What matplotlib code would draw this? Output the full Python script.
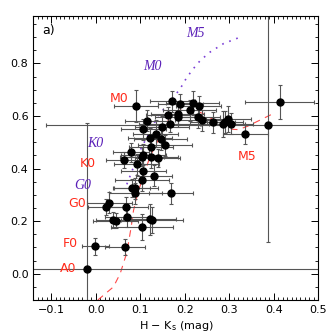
import matplotlib
matplotlib.use("Agg")
import matplotlib.pyplot as plt
from matplotlib.ticker import MultipleLocator

# H-Ks, J-H colours of the sample with errors
hk = [0.091, 0.172, 0.190, 0.218, 0.231, 0.162, 0.184, 0.184, 0.211, 0.229,
      0.238, 0.263, 0.167, 0.285, 0.291, 0.298, 0.304, 0.336, 0.388, 0.413,
      0.116, 0.107, 0.149, 0.122, 0.135, 0.146, 0.124, 0.080, 0.107, 0.104,
      0.124, 0.139, 0.064, 0.092, 0.107, 0.131, 0.104, 0.081, 0.089, 0.089,
      0.169, 0.031, 0.023, 0.068, 0.040, 0.045, 0.070, 0.121, 0.126, 0.104,
      -0.001, 0.066, -0.019, 0.156]
jh = [0.637, 0.656, 0.645, 0.650, 0.637, 0.603, 0.609, 0.597, 0.622, 0.596,
      0.584, 0.576, 0.568, 0.569, 0.577, 0.589, 0.571, 0.530, 0.564, 0.653,
      0.581, 0.549, 0.558, 0.515, 0.533, 0.511, 0.483, 0.461, 0.453, 0.445,
      0.442, 0.439, 0.432, 0.417, 0.392, 0.373, 0.356, 0.327, 0.325, 0.306,
      0.306, 0.270, 0.253, 0.253, 0.205, 0.202, 0.217, 0.207, 0.205, 0.177,
      0.104, 0.101, 0.018, 0.489]
hk_err = [0.05, 0.05, 0.05, 0.06, 0.05, 0.05, 0.06, 0.05, 0.06, 0.05,
          0.06, 0.05, 0.07, 0.05, 0.04, 0.05, 0.05, 0.05, 0.50, 0.077,
          0.05, 0.05, 0.06, 0.05, 0.05, 0.06, 0.05, 0.04, 0.05, 0.05,
          0.06, 0.05, 0.04, 0.05, 0.05, 0.04, 0.06, 0.04, 0.05, 0.06,
          0.05, 0.05, 0.04, 0.05, 0.04, 0.05, 0.05, 0.06, 0.07, 0.07,
          0.03, 0.045, 0.55, 0.06]
jh_err = [0.06, 0.04, 0.04, 0.045, 0.04, 0.03, 0.04, 0.04, 0.04, 0.04,
          0.04, 0.04, 0.03, 0.05, 0.04, 0.05, 0.04, 0.036, 0.443, 0.066,
          0.04, 0.04, 0.04, 0.04, 0.05, 0.04, 0.04, 0.035, 0.04, 0.035,
          0.04, 0.035, 0.03, 0.04, 0.04, 0.04, 0.04, 0.035, 0.04, 0.04,
          0.04, 0.04, 0.03, 0.04, 0.03, 0.03, 0.04, 0.06, 0.05, 0.05,
          0.033, 0.03, 0.554, 0.04]

# dwarf locus (red dashed)
dw_hk = [0.005, 0.04, 0.055, 0.07, 0.08, 0.085, 0.095, 0.107, 0.122, 0.135,
         0.15, 0.165, 0.185, 0.21, 0.24, 0.27, 0.30, 0.32, 0.34, 0.37, 0.40]
dw_jh = [-0.10, -0.05, 0.0, 0.08, 0.18, 0.24, 0.31, 0.37, 0.445, 0.49,
         0.54, 0.59, 0.62, 0.628, 0.61, 0.58, 0.55, 0.548, 0.56, 0.585, 0.61]

# giant branch (purple dotted)
gi_hk = [0.07, 0.10, 0.14, 0.17, 0.19, 0.201, 0.216, 0.235, 0.257, 0.287, 0.328]
gi_jh = [0.34, 0.47, 0.60, 0.66, 0.704, 0.736, 0.773, 0.811, 0.843, 0.875, 0.902]

dw_labels = ["M0", "K0", "G0", "F0", "A0", "M5"]
dw_lx = [0.053, -0.017, -0.042, -0.058, -0.061, 0.34]
dw_ly = [0.666, 0.421, 0.268, 0.116, 0.019, 0.447]

gi_labels = ["M0", "K0", "G0", "M5"]
gi_lx = [0.127, -0.001, -0.029, 0.223]
gi_ly = [0.789, 0.497, 0.337, 0.913]

fig = plt.figure(figsize=(3.34, 3.34), dpi=100)
ax = fig.add_axes([0.0997, 0.1018, 0.8533, 0.8502])

ax.plot(dw_hk, dw_jh, color="#ff4a4a", ls=(0, (6, 5)), lw=0.8)
ax.plot(gi_hk, gi_jh, color="#7b3fd6", ls=(0, (1, 3.5)), lw=1.2)

ax.errorbar(hk, jh, xerr=hk_err, yerr=jh_err, fmt="o", color="black",
            ms=5, ecolor="#555555", elinewidth=0.8, capsize=1.5, capthick=0.8)

for t, x, y in zip(dw_labels, dw_lx, dw_ly):
    ax.text(x, y, t, color="#ff2a1a", fontsize=9, ha="center", va="center")
for t, x, y in zip(gi_labels, gi_lx, gi_ly):
    ax.text(x, y, t, color="#5a1fb8", fontsize=10, ha="center", va="center",
            family="Liberation Serif", style="italic")

ax.text(-0.106, 0.925, "a)", fontsize=9, ha="center", va="center")

ax.set_xlim(-0.14, 0.5)
ax.set_ylim(-0.1, 0.98)
ax.xaxis.set_major_locator(MultipleLocator(0.1))
ax.xaxis.set_minor_locator(MultipleLocator(0.01))
ax.yaxis.set_major_locator(MultipleLocator(0.2))
ax.yaxis.set_minor_locator(MultipleLocator(0.05))
ax.tick_params(which="both", direction="in", top=True, right=True, labelsize=8)
ax.tick_params(which="major", length=5, width=0.7)
ax.tick_params(which="minor", length=2.5, width=0.6)
for s in ax.spines.values():
    s.set_linewidth(0.8)

ax.set_xlabel("H $-$ K$_{\\mathrm{s}}$ (mag)", fontsize=8, labelpad=3)
ax.set_ylabel("J $-$ H (mag)", fontsize=8)
ax.yaxis.set_label_coords(-0.11, 0.5)

fig.savefig("out.png", dpi=100)
